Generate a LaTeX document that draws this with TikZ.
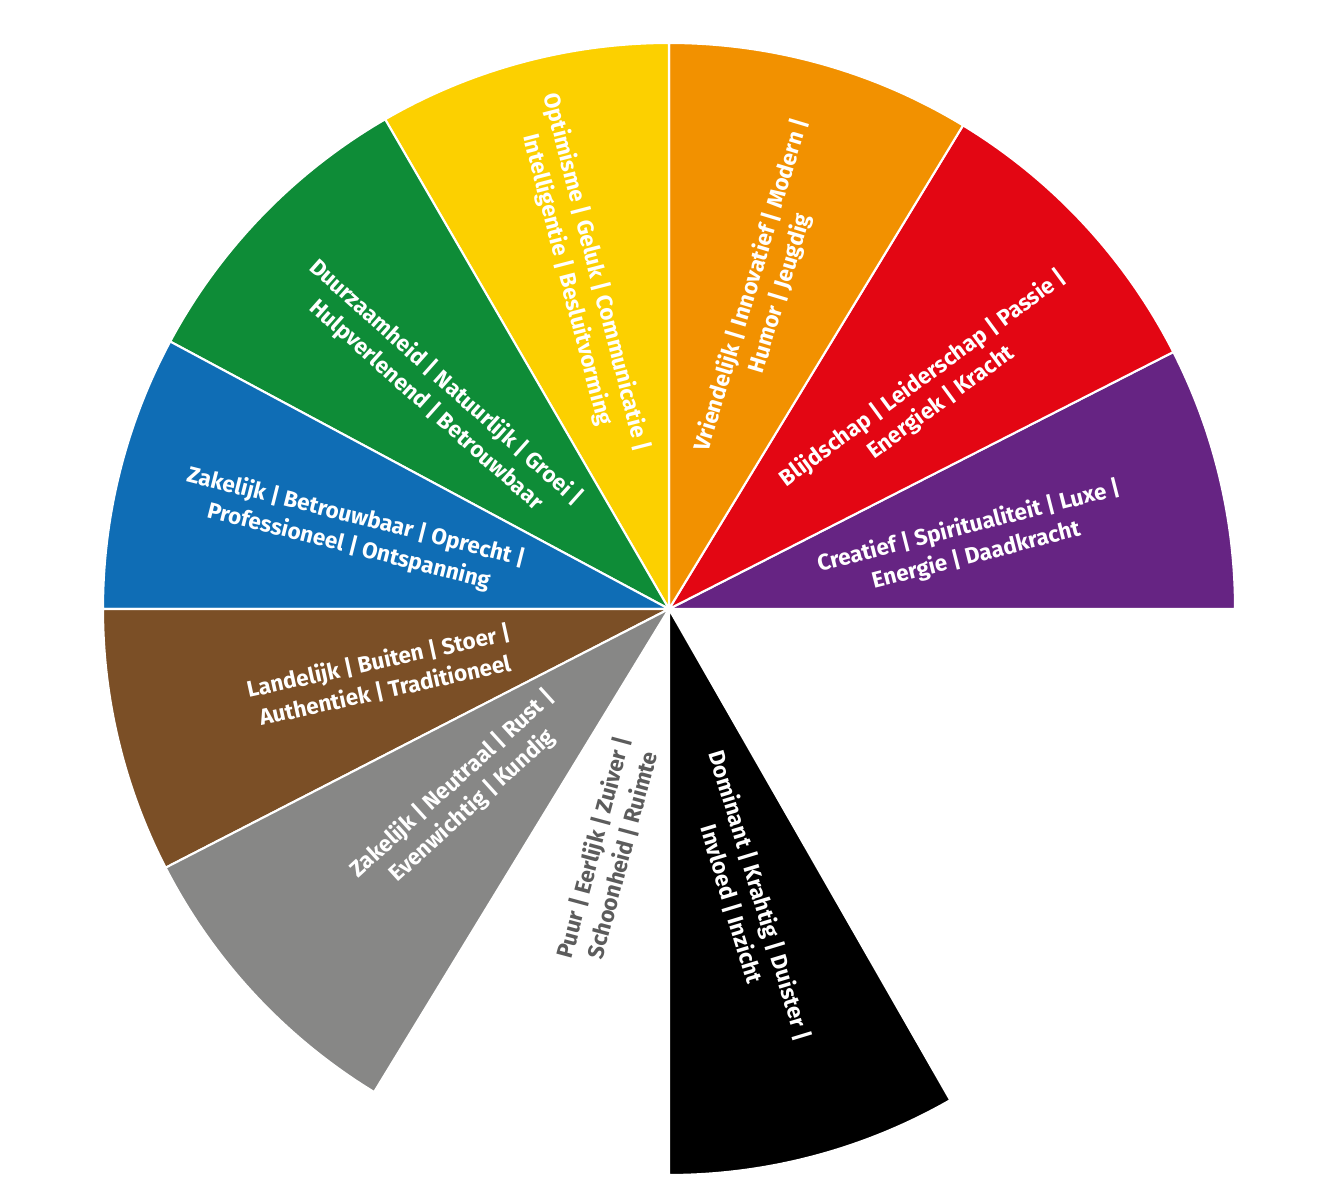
\documentclass[tikz,border=0pt]{standalone}
\usepackage{fontspec}
\setmainfont{Fira Sans}
\usepackage{tikz}
\definecolor{geel}{HTML}{FCD000}
\definecolor{oranje}{HTML}{F29100}
\definecolor{rood}{HTML}{E30613}
\definecolor{paars}{HTML}{662483}
\definecolor{groen}{HTML}{0E8C37}
\definecolor{blauw}{HTML}{0F6DB5}
\definecolor{bruin}{HTML}{7B4F26}
\definecolor{grijs}{HTML}{878786}
\definecolor{tekstgrijs}{HTML}{5C5C5C}

\begin{document}
\begin{tikzpicture}[
  taart/.style={draw=white, line width=1.2pt, line join=round},
  woord/.style={text=white, align=center, inner sep=0pt,
    font=\bfseries\fontsize{12.8}{17}\selectfont}]
\useasboundingbox (0cm,0cm) rectangle (26.64cm,24cm);
\coordinate (M) at (13.38cm,11.82cm);
% sectoren
\path[taart, fill=paars] (M) -- ++(0:11.32cm) arc (0:27:11.32cm) -- cycle;
\path[taart, fill=rood] (M) -- ++(27:11.32cm) arc (27:58.7:11.32cm) -- cycle;
\path[taart, fill=oranje] (M) -- ++(58.7:11.32cm) arc (58.7:90:11.32cm) -- cycle;
\path[taart, fill=geel] (M) -- ++(90:11.32cm) arc (90:120.1:11.32cm) -- cycle;
\path[taart, fill=groen] (M) -- ++(120.1:11.32cm) arc (120.1:151.8:11.32cm) -- cycle;
\path[taart, fill=blauw] (M) -- ++(151.8:11.32cm) arc (151.8:180:11.32cm) -- cycle;
\path[taart, fill=bruin] (M) -- ++(180:11.32cm) arc (180:207.2:11.32cm) -- cycle;
\path[taart, fill=grijs] (M) -- ++(207.2:11.32cm) arc (207.2:238.6:11.32cm) -- cycle;
\path[taart, fill=black] (M) -- ++(270:11.32cm) arc (270:299.8:11.32cm) -- cycle;
% teksten
\node[woord, rotate=-75.5] (optimisme) at ([shift={(104.7:6.88cm)}]M)
  {Optimisme | Geluk | Communicatie |\\Intelligentie | Besluitvorming};
\node[woord, rotate=73.2] (vriendelijk) at ([shift={(73.1:6.68cm)}]M)
  {Vriendelijk | Innovatief | Modern |\\Humor | Jeugdig};
\node[woord, rotate=36.3] (blijdschap) at ([shift={(39.7:6.84cm)}]M)
  {Blijdschap | Leiderschap | Passie |\\Energiek | Kracht};
\node[woord, rotate=14.3] (creatief) at ([shift={(12.6:6.22cm)}]M)
  {Creatief | Spiritualiteit | Luxe |\\Energie | Daadkracht};
\node[woord, rotate=-41.7] (duurzaamheid) at ([shift={(137.3:6.34cm)}]M)
  {Duurzaamheid | Natuurlijk | Groei |\\Hulpverlenend | Betrouwbaar};
\node[woord, rotate=-14.2] (zakelijkblauw) at ([shift={(166.3:6.52cm)}]M)
  {Zakelijk | Betrouwbaar | Oprecht |\\Professioneel | Ontspanning};
\node[woord, rotate=12.4] (landelijk) at ([shift={(193.1:5.90cm)}]M)
  {Landelijk | Buiten | Stoer |\\Authentiek | Traditioneel};
\node[woord, rotate=42.3] (zakelijkgrijs) at ([shift={(222:5.56cm)}]M)
  {Zakelijk | Neutraal | Rust |\\Evenwichtig | Kundig};
\node[woord, text=tekstgrijs, rotate=75] (puur) at ([shift={(255.9:5.00cm)}]M)
  {Puur | Eerlijk | Zuiver |\\Schoonheid | Ruimte};
\node[woord, rotate=-73.1] (dominant) at ([shift={(284.8:6.02cm)}]M)
  {Dominant | Krahtig | Duister |\\Invloed | Inzicht};
\end{tikzpicture}
\end{document}
